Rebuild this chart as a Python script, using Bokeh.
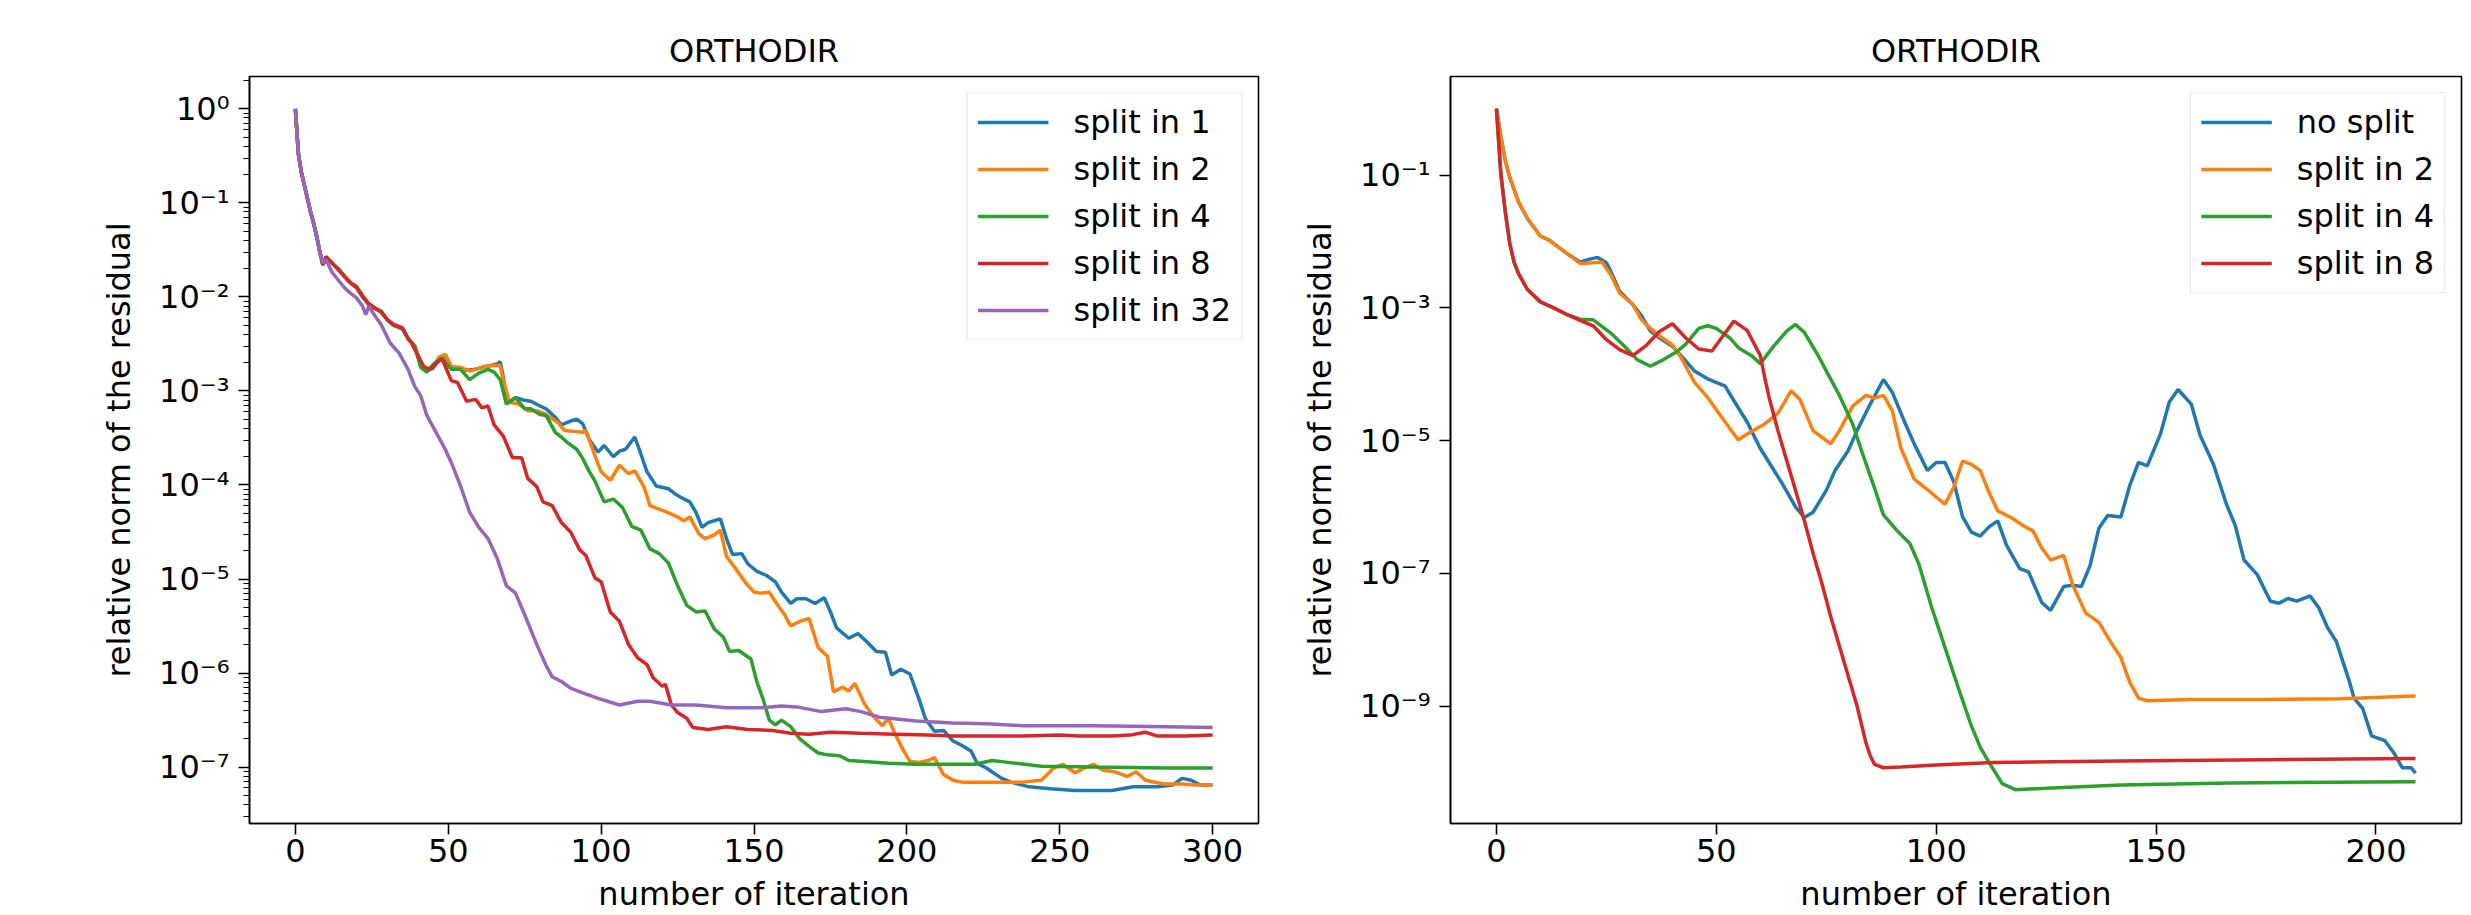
from bokeh.plotting import figure
from bokeh.layouts import row
from bokeh.models import Range1d, FixedTicker, CustomJSTickFormatter
from bokeh.embed import file_html
from bokeh.resources import INLINE

# ---------------- data (y stored as log10 of the residual) ----------
TITLE = "ORTHODIR"
XLABEL = "number of iteration"
YLABEL = "relative norm of the residual"
COLORS = ["#1f77b4", "#ff7f0e", "#2ca02c", "#d62728", "#9467bd"]

left_labels = ["split in 1", "split in 2", "split in 4", "split in 8", "split in 32"]
right_labels = ["no split", "split in 2", "split in 4", "split in 8"]

left_x_ticks = [0, 50, 100, 150, 200, 250, 300]
right_x_ticks = [0, 50, 100, 150, 200]
left_y_ticks = [1e0, 1e-1, 1e-2, 1e-3, 1e-4, 1e-5, 1e-6, 1e-7]
right_y_ticks = [1e-1, 1e-3, 1e-5, 1e-7, 1e-9]

# ---- left panel ----
L1_x = [0, 1, 2, 3, 4, 5, 6, 7, 8, 9, 10, 12, 14, 16, 18, 20, 22, 24, 26, 28, 30, 32, 35, 37, 39, 41, 43, 45,
        47, 49, 51, 53, 56, 59, 62, 64, 66, 67, 68, 69, 70, 72, 75, 77, 80, 82, 85, 87, 90, 92, 94, 96, 99, 101,
        104, 106, 108, 111, 113, 115, 118, 122, 124, 126, 129, 131, 133, 135, 137, 139, 141, 143, 146, 148, 151,
        154, 157, 159, 162, 164, 167, 170, 173, 175, 177, 181, 184, 187, 190, 193, 195, 198, 201, 204, 206, 209,
        212, 215, 218, 221, 223, 226, 231, 234, 240, 247, 255, 267, 274, 282, 287, 290, 293, 296, 300]
L1_e = [0, -0.48, -0.68, -0.82, -0.96, -1.10, -1.22, -1.36, -1.52, -1.66, -1.58, -1.64, -1.70, -1.78, -1.85,
        -1.90, -2.00, -2.08, -2.12, -2.16, -2.24, -2.30, -2.33, -2.45, -2.52, -2.70, -2.78, -2.76, -2.66, -2.62,
        -2.74, -2.76, -2.78, -2.77, -2.74, -2.73, -2.71, -2.69, -2.85, -3.10, -3.12, -3.07, -3.10, -3.11, -3.16,
        -3.19, -3.28, -3.36, -3.32, -3.30, -3.35, -3.51, -3.65, -3.58, -3.70, -3.64, -3.62, -3.49, -3.67, -3.86,
        -4.01, -4.04, -4.09, -4.13, -4.18, -4.29, -4.45, -4.40, -4.38, -4.36, -4.57, -4.74, -4.73, -4.84, -4.92,
        -4.96, -5.03, -5.14, -5.26, -5.21, -5.21, -5.26, -5.20, -5.35, -5.52, -5.63, -5.58, -5.67, -5.77, -5.78,
        -6.02, -5.96, -6.01, -6.28, -6.48, -6.62, -6.61, -6.72, -6.77, -6.83, -6.96, -7.01, -7.12, -7.16, -7.21,
        -7.23, -7.25, -7.25, -7.21, -7.21, -7.19, -7.12, -7.14, -7.19, -7.19]

L2_x = [0, 1, 2, 3, 4, 5, 6, 7, 8, 9, 10, 12, 14, 16, 18, 20, 22, 24, 26, 28, 30, 32, 35, 37, 39, 41, 43, 45,
        47, 49, 51, 54, 57, 61, 64, 67, 68, 70, 73, 76, 79, 82, 86, 88, 91, 94, 95, 98, 100, 103, 106, 109, 111,
        114, 116, 120, 123, 125, 127, 129, 132, 134, 137, 139, 141, 144, 147, 150, 152, 155, 158, 160, 162, 165,
        168, 171, 174, 176, 179, 181, 183, 186, 189, 192, 194, 196, 199, 201, 204, 207, 209, 212, 215, 218, 226,
        238, 244, 248, 251, 255, 258, 261, 264, 268, 272, 275, 278, 284, 290, 294, 300]
L2_e = [0, -0.48, -0.68, -0.82, -0.96, -1.10, -1.22, -1.36, -1.52, -1.66, -1.58, -1.64, -1.70, -1.78, -1.85,
        -1.90, -2.00, -2.08, -2.12, -2.16, -2.24, -2.30, -2.34, -2.45, -2.52, -2.70, -2.77, -2.74, -2.64, -2.61,
        -2.74, -2.75, -2.79, -2.75, -2.73, -2.73, -2.88, -3.12, -3.14, -3.21, -3.21, -3.25, -3.34, -3.42, -3.43,
        -3.44, -3.42, -3.69, -3.86, -3.95, -3.79, -3.88, -3.85, -4.02, -4.22, -4.27, -4.31, -4.34, -4.38, -4.34,
        -4.52, -4.57, -4.53, -4.48, -4.76, -4.89, -5.03, -5.14, -5.15, -5.14, -5.29, -5.38, -5.50, -5.45, -5.42,
        -5.73, -5.82, -6.20, -6.15, -6.19, -6.11, -6.32, -6.46, -6.56, -6.48, -6.64, -6.83, -6.94, -6.95, -6.93,
        -6.90, -7.08, -7.14, -7.16, -7.16, -7.16, -7.14, -7.01, -6.97, -7.06, -7.01, -6.97, -7.03, -7.05, -7.10,
        -7.05, -7.14, -7.18, -7.18, -7.19, -7.19]

L3_x = [0, 1, 2, 3, 4, 5, 6, 7, 8, 9, 10, 12, 14, 16, 18, 20, 22, 24, 26, 28, 30, 32, 35, 37, 39, 41, 43, 45,
        48, 51, 54, 57, 60, 63, 65, 67, 69, 72, 75, 77, 80, 82, 85, 87, 89, 92, 94, 96, 98, 101, 104, 107, 110,
        113, 116, 119, 122, 125, 128, 131, 134, 137, 140, 142, 145, 149, 151, 153, 155, 157, 159, 162, 165, 168,
        171, 174, 178, 181, 186, 194, 203, 215, 222, 228, 233, 244, 261, 285, 300]
L3_e = [0, -0.48, -0.68, -0.82, -0.96, -1.10, -1.22, -1.36, -1.52, -1.66, -1.58, -1.64, -1.70, -1.78, -1.85,
        -1.90, -2.00, -2.08, -2.12, -2.16, -2.24, -2.30, -2.34, -2.45, -2.52, -2.75, -2.80, -2.72, -2.65, -2.77,
        -2.77, -2.88, -2.81, -2.77, -2.80, -2.88, -3.14, -3.07, -3.19, -3.19, -3.25, -3.26, -3.44, -3.49, -3.55,
        -3.62, -3.72, -3.85, -3.96, -4.18, -4.15, -4.24, -4.44, -4.48, -4.68, -4.73, -4.83, -5.07, -5.28, -5.35,
        -5.34, -5.53, -5.62, -5.77, -5.76, -5.85, -6.10, -6.28, -6.50, -6.55, -6.50, -6.57, -6.70, -6.78, -6.85,
        -6.87, -6.88, -6.93, -6.94, -6.96, -6.97, -6.97, -6.97, -6.93, -6.95, -6.99, -7.00, -7.01, -7.01]

L4_x = [0, 1, 2, 3, 4, 5, 6, 7, 8, 9, 10, 12, 14, 16, 18, 20, 22, 24, 26, 28, 30, 32, 35, 37, 38, 40, 42, 44,
        47, 48, 51, 53, 56, 59, 61, 63, 65, 68, 71, 74, 76, 79, 81, 84, 87, 90, 93, 95, 98, 100, 103, 106, 109,
        112, 115, 117, 120, 121, 123, 125, 128, 130, 135, 141, 148, 156, 162, 168, 175, 185, 196, 207, 215, 226,
        238, 250, 256, 267, 273, 278, 282, 291, 300]
L4_e = [0, -0.48, -0.68, -0.82, -0.96, -1.10, -1.22, -1.36, -1.52, -1.66, -1.57, -1.64, -1.71, -1.78, -1.85,
        -1.89, -1.99, -2.07, -2.12, -2.15, -2.24, -2.29, -2.33, -2.45, -2.49, -2.62, -2.74, -2.77, -2.68, -2.66,
        -2.89, -2.91, -3.11, -3.09, -3.18, -3.16, -3.36, -3.48, -3.71, -3.71, -3.93, -4.02, -4.18, -4.22, -4.40,
        -4.50, -4.69, -4.75, -4.99, -5.03, -5.35, -5.45, -5.70, -5.84, -5.91, -6.05, -6.14, -6.12, -6.34, -6.42,
        -6.48, -6.58, -6.60, -6.57, -6.60, -6.61, -6.64, -6.65, -6.63, -6.64, -6.65, -6.66, -6.67, -6.67, -6.67,
        -6.66, -6.67, -6.67, -6.66, -6.63, -6.67, -6.67, -6.66]

L5_x = [0, 1, 2, 3, 4, 5, 6, 7, 8, 9, 10, 12, 14, 16, 18, 20, 22, 23, 24, 26, 28, 31, 34, 37, 39, 41, 43, 46,
        49, 51, 54, 57, 60, 63, 66, 69, 72, 75, 79, 82, 84, 87, 90, 94, 99, 106, 112, 116, 123, 131, 141, 152,
        159, 164, 172, 180, 185, 191, 203, 215, 226, 238, 261, 285, 300]
L5_e = [0, -0.48, -0.68, -0.82, -0.96, -1.10, -1.22, -1.36, -1.52, -1.64, -1.60, -1.74, -1.82, -1.90, -1.96,
        -2.01, -2.10, -2.19, -2.10, -2.20, -2.29, -2.49, -2.60, -2.78, -2.95, -3.05, -3.26, -3.44, -3.62, -3.76,
        -4.01, -4.29, -4.45, -4.57, -4.78, -5.07, -5.15, -5.38, -5.70, -5.92, -6.04, -6.09, -6.16, -6.21, -6.27,
        -6.34, -6.30, -6.30, -6.34, -6.34, -6.37, -6.37, -6.35, -6.36, -6.41, -6.38, -6.41, -6.47, -6.51, -6.53,
        -6.54, -6.56, -6.56, -6.57, -6.58]

# ---- right panel ----
R1_x = [0, 1, 2, 3, 5, 7, 10, 12, 14, 16, 19, 21, 23, 25, 26, 28, 31, 33, 35, 37, 40, 42, 45, 48, 52, 54, 57,
        60, 62, 65, 68, 70, 72, 75, 77, 80, 82, 85, 88, 90, 93, 95, 98, 100, 102, 104, 106, 108, 110, 112, 114,
        116, 119, 121, 124, 126, 129, 131, 133, 135, 137, 139, 142, 144, 146, 148, 151, 153, 155, 158, 160, 163,
        166, 168, 170, 173, 176, 178, 180, 182, 185, 187, 189, 191, 194, 195, 197, 199, 202, 204, 206, 208, 209]
R1_e = [0, -0.42, -0.78, -1.03, -1.40, -1.65, -1.92, -1.98, -2.08, -2.18, -2.31, -2.27, -2.24, -2.32, -2.45,
        -2.75, -2.95, -3.12, -3.35, -3.45, -3.58, -3.72, -3.95, -4.07, -4.18, -4.40, -4.72, -5.12, -5.33, -5.65,
        -6.00, -6.16, -6.08, -5.75, -5.45, -5.15, -4.85, -4.45, -4.08, -4.27, -4.75, -5.05, -5.45, -5.33, -5.33,
        -5.62, -6.15, -6.38, -6.44, -6.30, -6.21, -6.58, -6.93, -6.98, -7.44, -7.56, -7.20, -7.18, -7.20, -6.88,
        -6.32, -6.13, -6.15, -5.68, -5.33, -5.38, -4.90, -4.42, -4.23, -4.45, -4.92, -5.35, -5.96, -6.28, -6.80,
        -7.02, -7.42, -7.45, -7.38, -7.42, -7.34, -7.52, -7.82, -8.03, -8.64, -8.88, -9.04, -9.45, -9.52, -9.70,
        -9.93, -9.93, -10.01]

R2_x = [0, 1, 2, 3, 5, 7, 10, 12, 14, 16, 19, 22, 24, 26, 28, 31, 33, 35, 37, 40, 42, 45, 48, 52, 55, 57, 61,
        64, 67, 69, 72, 74, 76, 78, 81, 84, 86, 88, 90, 92, 95, 98, 100, 102, 104, 106, 108, 110, 112, 114, 117,
        120, 122, 124, 126, 129, 131, 134, 137, 140, 142, 144, 146, 148, 158, 175, 192, 209]
R2_e = [0, -0.42, -0.78, -1.03, -1.40, -1.65, -1.92, -1.98, -2.08, -2.18, -2.33, -2.32, -2.31, -2.50, -2.78,
        -2.95, -3.18, -3.31, -3.42, -3.56, -3.75, -4.12, -4.35, -4.72, -4.99, -4.90, -4.75, -4.59, -4.25, -4.38,
        -4.85, -4.95, -5.05, -4.85, -4.48, -4.32, -4.36, -4.32, -4.55, -5.12, -5.58, -5.74, -5.85, -5.96, -5.70,
        -5.31, -5.36, -5.45, -5.78, -6.06, -6.16, -6.29, -6.36, -6.62, -6.80, -6.73, -7.17, -7.60, -7.74, -8.07,
        -8.27, -8.64, -8.88, -8.92, -8.90, -8.90, -8.89, -8.85]

R3_x = [0, 1, 2, 3, 4, 5, 7, 10, 13, 16, 19, 22, 26, 29, 32, 35, 38, 41, 43, 46, 48, 50, 53, 55, 58, 60, 63,
        66, 68, 70, 73, 75, 78, 81, 83, 86, 88, 91, 94, 96, 99, 102, 105, 108, 110, 112, 115, 118, 125, 142,
        167, 209]
R3_e = [0, -0.98, -1.55, -2.02, -2.31, -2.48, -2.72, -2.91, -3.00, -3.10, -3.17, -3.18, -3.38, -3.57, -3.78,
        -3.88, -3.78, -3.66, -3.55, -3.31, -3.27, -3.31, -3.45, -3.60, -3.72, -3.84, -3.58, -3.35, -3.25, -3.37,
        -3.70, -3.95, -4.32, -4.75, -5.15, -5.72, -6.12, -6.35, -6.55, -6.85, -7.52, -8.12, -8.72, -9.30, -9.62,
        -9.85, -10.17, -10.26, -10.24, -10.19, -10.16, -10.14]

R4_x = [0, 1, 2, 3, 4, 5, 7, 10, 13, 16, 19, 22, 25, 28, 31, 34, 37, 40, 43, 46, 49, 52, 54, 57, 60, 61, 62,
        64, 66, 68, 70, 72, 74, 76, 78, 80, 82, 84, 85, 86, 88, 92, 100, 113, 142, 175, 209]
R4_e = [0, -0.98, -1.55, -2.02, -2.31, -2.48, -2.72, -2.91, -3.00, -3.10, -3.19, -3.27, -3.48, -3.63, -3.72,
        -3.57, -3.36, -3.24, -3.45, -3.62, -3.65, -3.38, -3.20, -3.34, -3.72, -4.05, -4.35, -4.85, -5.30, -5.75,
        -6.20, -6.70, -7.15, -7.65, -8.10, -8.55, -9.00, -9.55, -9.75, -9.88, -9.93, -9.92, -9.89, -9.85, -9.83,
        -9.81, -9.79]

left_series = [(L1_x, L1_e), (L2_x, L2_e), (L3_x, L3_e), (L4_x, L4_e), (L5_x, L5_e)]
right_series = [(R1_x, R1_e), (R2_x, R2_e), (R3_x, R3_e), (R4_x, R4_e)]

# ---------------- styling ----------------
FONT = "DejaVu Sans"
FS = "32px"

sup_formatter = CustomJSTickFormatter(code=r"""
const sup = {"-": "\u207b", "0": "\u2070", "1": "\u00b9", "2": "\u00b2", "3": "\u00b3",
             "4": "\u2074", "5": "\u2075", "6": "\u2076", "7": "\u2077", "8": "\u2078", "9": "\u2079"};
const e = Math.round(Math.log10(tick));
return "10" + String(e).split("").map(c => sup[c]).join("");
""")


def make_panel(series, labels, xr, ylog, xticks, yticks, yminor, width, bl, br, bt, bb):
    ylo, yhi = ylog
    p = figure(width=width, height=915, x_range=Range1d(*xr), y_range=Range1d(10 ** ylo, 10 ** yhi),
               y_axis_type="log", output_backend="svg", toolbar_location=None,
               min_border_left=bl, min_border_right=br, min_border_top=bt, min_border_bottom=bb)
    for (xs, es), lab, col in zip(series, labels, COLORS):
        p.line(xs, [10 ** e for e in es], line_color=col, line_width=3.5, legend_label=lab)
    p.grid.visible = False
    p.background_fill_color = "white"
    p.border_fill_color = "white"
    p.outline_line_color = "black"
    p.outline_line_width = 1.6
    p.outline_line_alpha = 1.0

    p.title.text = TITLE
    p.title.align = "center"
    p.title.text_font = FONT
    p.title.text_font_size = FS
    p.title.text_font_style = "normal"
    p.title.text_color = "black"
    p.title.standoff = 14

    p.xaxis.ticker = FixedTicker(ticks=xticks, minor_ticks=[])
    p.yaxis.ticker = FixedTicker(ticks=yticks, minor_ticks=yminor)
    p.yaxis.formatter = sup_formatter
    p.xaxis.axis_label = XLABEL
    p.yaxis.axis_label = YLABEL
    for ax in (p.xaxis, p.yaxis):
        ax.axis_label_text_font = FONT
        ax.axis_label_text_font_size = FS
        ax.axis_label_text_font_style = "normal"
        ax.axis_label_text_color = "black"
        ax.major_label_text_font = FONT
        ax.major_label_text_font_size = FS
        ax.major_label_text_color = "black"
        ax.axis_line_color = "black"
        ax.axis_line_width = 1.6
        ax.major_tick_line_color = "black"
        ax.major_tick_line_width = 1.6
        ax.major_tick_out = 11
        ax.major_tick_in = 0
        ax.minor_tick_line_color = "black"
        ax.minor_tick_line_width = 1.2
        ax.minor_tick_out = 6
        ax.minor_tick_in = 0
    p.xaxis.major_label_standoff = 4
    p.xaxis.axis_label_standoff = 10
    p.yaxis.major_label_standoff = 9
    p.yaxis.axis_label_standoff = 18

    lg = p.legend[0]
    lg.location = "top_right"
    lg.margin = 16
    lg.padding = 10
    lg.spacing = 9
    lg.glyph_width = 71
    lg.glyph_height = 38
    lg.label_height = 38
    lg.label_standoff = 25
    lg.label_text_font = FONT
    lg.label_text_font_size = FS
    lg.label_text_color = "black"
    lg.border_line_color = "#cccccc"
    lg.border_line_width = 1.5
    lg.background_fill_alpha = 0.8
    return p


left_minor = [k * 10.0 ** e for e in range(-8, 1) for k in range(2, 10)]

p1 = make_panel(left_series, left_labels, (-15, 315), (-7.60, 0.344),
                left_x_ticks, left_y_ticks, left_minor, 1290, 249, 32, 76, 89)
p2 = make_panel(right_series, right_labels, (-10.45, 219.45), (-10.77, 0.486),
                right_x_ticks, right_y_ticks, [], 1181, 160, 10, 74, 89)

layout = row(p1, p2)
open("out.html", "w", encoding="utf-8").write(file_html(layout, INLINE))
